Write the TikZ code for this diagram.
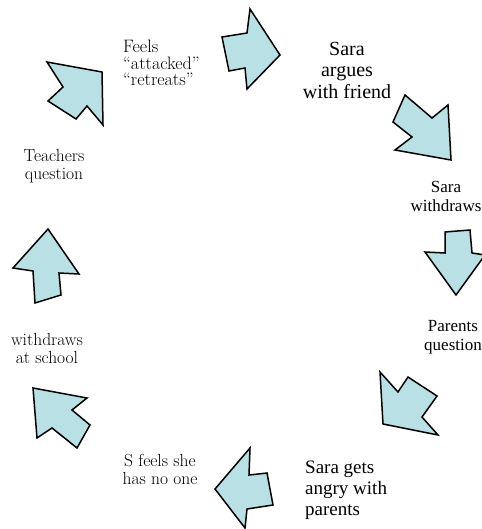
\documentclass[tikz,border=0pt]{standalone}
\usepackage{xcolor}
\usepackage{fontspec}
\newfontfamily\timesfont{Liberation Serif}
\usepackage{tikz}
\definecolor{cyclefill}{RGB}{185,224,228}
\tikzstyle{bigarrow} = [draw=black, line width=1.5pt, fill=cyclefill, line join=miter]
\tikzstyle{stepnote} = [align=center, inner sep=0pt, font=\fontsize{17.5}{18}\selectfont]
\tikzstyle{steptimes} = [align=center, inner sep=0pt, font=\timesfont\fontsize{17}{19}\selectfont]

\begin{document}
\begin{tikzpicture}[x=1pt, y=-1pt]
    \useasboundingbox (0,0) rectangle (481,529);

    % the texts round the circle
    \node (argues)   [steptimes, font=\timesfont\fontsize{20}{21.5}\selectfont] at (347,70) {Sara\\argues\\with friend};
    \node (withdraw) [steptimes] at (446,196) {Sara\\withdraws};
    \node (parents)  [steptimes] at (453,337) {Parents\\question};
    \node (angry)    [steptimes, align=left, anchor=west, font=\timesfont\fontsize{19}{21}\selectfont] at (305,490) {Sara gets\\angry with\\parents};
    \node (noone)    [stepnote] at (160,469) {S feels she\\has no one};
    \node (school)   [stepnote] at (47,348)  {withdraws\\at school};
    \node (teachers) [stepnote] at (54,166)  {Teachers\\question};
    \node (feels)    [stepnote, align=left, anchor=west, font=\fontsize{18}{16.5}\selectfont] at (123,63) {Feels\\``attacked''\\``retreats''};

    % the arrows between them
    \draw [bigarrow] (222,37) -- (247,33) -- (250,9) -- (280,55) -- (247,89) -- (245,68) -- (229,71) -- cycle;
    \draw [bigarrow] (405,95) -- (432,118) -- (448,105) -- (451,160) -- (395,150) -- (412,137) -- (393,122) -- cycle;
    \draw [bigarrow] (445,232) -- (470,230) -- (472,253) -- (485,255) -- (456,295) -- (425,252) -- (445,253) -- cycle;
    \draw [bigarrow] (380,372) -- (398,392) -- (408,377) -- (437,396) -- (422,417) -- (438,435) -- (383,424) -- cycle;
    \draw [bigarrow] (215,489) -- (250,448) -- (249,475) -- (267,473) -- (273,505) -- (247,509) -- (245,528) -- cycle;
    \draw [bigarrow] (33,388) -- (87,398) -- (72,410) -- (90,425) -- (77,448) -- (52,428) -- (37,438) -- cycle;
    \draw [bigarrow] (48,229) -- (79,274) -- (59,273) -- (61,295) -- (35,303) -- (33,271) -- (13,268) -- cycle;
    \draw [bigarrow] (47,62) -- (102,72) -- (103,125) -- (87,106) -- (76,119) -- (48,101) -- (63,87) -- cycle;

\end{tikzpicture}
\end{document}
